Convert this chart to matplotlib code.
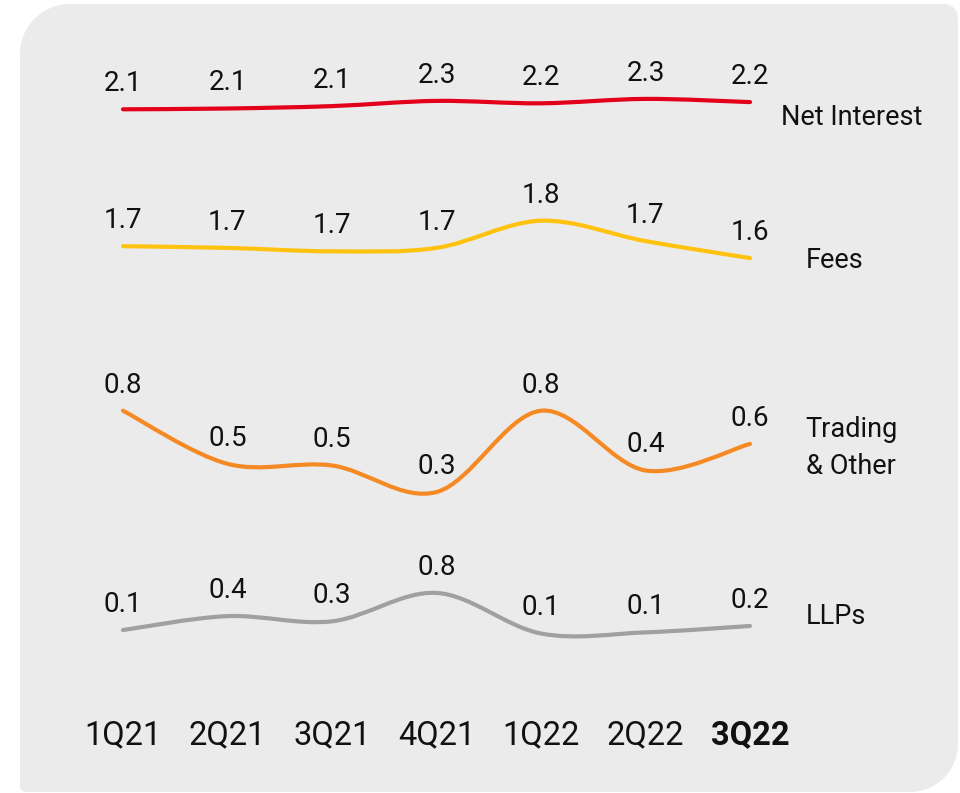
import numpy as np
import matplotlib
matplotlib.use("Agg")
import matplotlib.pyplot as plt
import matplotlib.transforms as mtransforms
from matplotlib.path import Path
from matplotlib.patches import PathPatch

plt.rcParams["font.family"] = ["Roboto", "DejaVu Sans"]

W, H = 960, 793

quarters = ["1Q21", "2Q21", "3Q21", "4Q21", "1Q22", "2Q22", "3Q22"]
net_interest = [2.06, 2.08, 2.14, 2.27, 2.21, 2.32, 2.24]
fees = [1.69, 1.68, 1.66, 1.68, 1.84, 1.72, 1.62]
trading = [0.80, 0.48, 0.47, 0.31, 0.80, 0.44, 0.60]
llps = [0.12, 0.36, 0.27, 0.76, 0.06, 0.08, 0.19]

RED, YELLOW, ORANGE, GREY = "#E3001B", "#FFC20E", "#F58A24", "#A0A0A0"
PANEL = "#EBEBEB"
INK = "#111111"


def px_rect(y_lo_px, px_per_unit, lo, hi, x0=123, x1=750):
    """axes rect (figure fraction) so that value `lo` sits at pixel row y_lo_px"""
    h = (hi - lo) * px_per_unit
    return [x0 / W, (H - y_lo_px) / H, (x1 - x0) / W, h / H]


def smooth_path(xs, ys):
    """catmull-rom style bezier through the points (like a 'smoothed line')"""
    pts = np.column_stack([xs, ys]).astype(float)
    ext = np.vstack([pts[0], pts, pts[-1]])
    verts, codes = [pts[0]], [Path.MOVETO]
    for i in range(len(pts) - 1):
        p0, p1, p2, p3 = ext[i], ext[i + 1], ext[i + 2], ext[i + 3]
        verts += [p1 + (p2 - p0) / 6, p2 - (p3 - p1) / 6, p2]
        codes += [Path.CURVE4] * 3
    return Path(verts, codes)


def panel_path(l, t, r, b, rtl, rtr, rbr, rbl):
    k = 0.5523
    P = lambda x, y: (x / W, 1 - y / H)
    v = [P(l + rtl, t), P(r - rtr, t),
         P(r - rtr + k * rtr, t), P(r, t + rtr - k * rtr), P(r, t + rtr),
         P(r, b - rbr),
         P(r, b - rbr + k * rbr), P(r - rbr + k * rbr, b), P(r - rbr, b),
         P(l + rbl, b),
         P(l + rbl - k * rbl, b), P(l, b - rbl + k * rbl), P(l, b - rbl),
         P(l, t + rtl),
         P(l, t + rtl - k * rtl), P(l + rtl - k * rtl, t), P(l + rtl, t)]
    c = [Path.MOVETO, Path.LINETO] + [Path.CURVE4] * 3 + [Path.LINETO] + \
        [Path.CURVE4] * 3 + [Path.LINETO] + [Path.CURVE4] * 3 + [Path.LINETO] + \
        [Path.CURVE4] * 3
    return Path(v, c)


fig = plt.figure(figsize=(W / 100, H / 100), dpi=100)
fig.patch.set_facecolor("white")
fig.patches.append(PathPatch(panel_path(20, 4, 958, 792, 50, 14, 48, 6),
                             transform=fig.transFigure, facecolor=PANEL,
                             edgecolor="none", zorder=-10))

series = [
    # name, values, colour, ylim, rect, name offset (pt)
    ("Net Interest", net_interest, RED, (2.0, 2.4), px_rect(111.7, 40, 2.0, 2.4), (22, -11)),
    ("Fees", fees, YELLOW, (1.5, 1.9), px_rect(278.5, 170, 1.5, 1.9), (40, -2)),
    ("Trading\n& Other", trading, ORANGE, (0.2, 0.9), px_rect(510.3, 166, 0.2, 0.9), (40, -3)),
    ("LLPs", llps, GREY, (0.0, 0.9), px_rect(637.0, 58, 0.0, 0.9), (40, 7)),
]

x = np.arange(len(quarters))
for name, vals, col, ylim, rect, off in series:
    ax = fig.add_axes(rect, zorder=1)
    ax.set_xlim(0, len(quarters) - 1)
    ax.set_ylim(*ylim)
    ax.axis("off")
    ax.add_patch(PathPatch(smooth_path(x, vals), facecolor="none", edgecolor=col,
                           lw=3, capstyle="round", clip_on=False))
    for xi, v in zip(x, vals):
        ax.annotate(f"{v:.1f}", (xi, v), xytext=(0, 13), textcoords="offset points",
                    ha="center", va="baseline", fontsize=20, color=INK,
                    annotation_clip=False)
    ax.annotate(name, (x[-1], vals[-1]), xytext=off, textcoords="offset points",
                ha="left", va="center", fontsize=19.5, color=INK,
                linespacing=1.5, annotation_clip=False)

# quarter labels along the bottom
trans = mtransforms.blended_transform_factory(ax.transData, fig.transFigure)
for xi, q in zip(x, quarters):
    ax.text(xi, 1 - 735 / H, q, transform=trans, ha="center", va="center",
            fontsize=23.5, color=INK,
            fontweight="bold" if q == quarters[-1] else "normal")

fig.savefig("out.png", dpi=100)
